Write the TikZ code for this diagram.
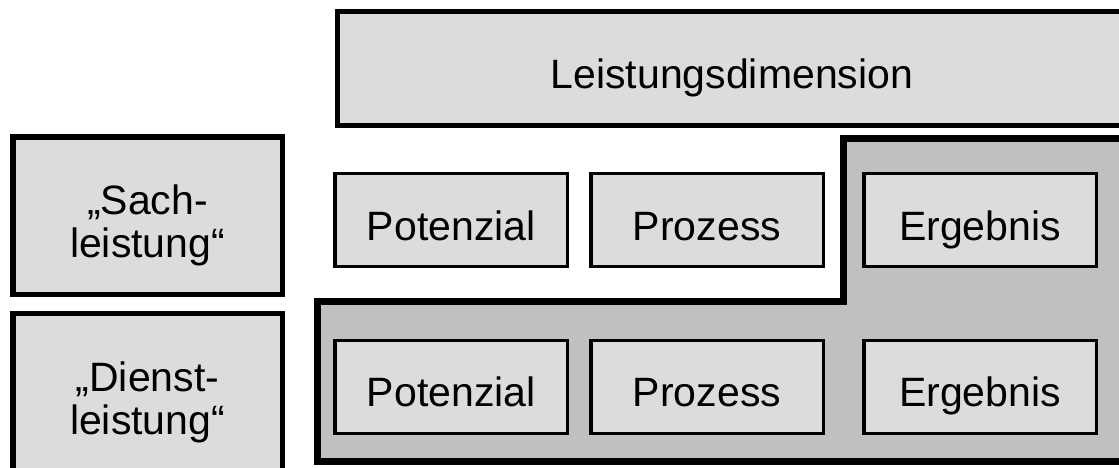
\documentclass[tikz,border=0pt]{standalone}
\usepackage{fontspec}
\setmainfont{Liberation Sans}
\usetikzlibrary{calc}
\definecolor{boxgray}{RGB}{220,220,220}
\definecolor{zonegray}{RGB}{192,192,192}
\begin{document}
\begin{tikzpicture}[x=1pt,y=-1pt,
  every node/.style={inner sep=0pt, outer sep=0pt, font=\fontsize{41}{43}\selectfont},
  cell/.style={draw, fill=boxgray, line width=3.5pt, minimum width=232.5pt,
    minimum height=93pt, text height=40pt, text depth=0pt},
  headbox/.style={draw, fill=boxgray, line width=5pt, minimum width=789.3pt,
    minimum height=113.7pt, text height=40pt, text depth=0pt},
  kindbox/.style={draw, fill=boxgray, line width=5.5pt, minimum width=269.5pt,
    minimum height=157.8pt},
  kindtext/.style={align=center},
  zone/.style={draw, fill=zonegray, line width=7pt}
]
\useasboundingbox (0,0) rectangle (1119,468);
\begin{scope}
  \clip (0,0) rectangle (1119,468);

  % shaded step-shaped zone behind the service row and the upper result
  \draw[zone] (317.5,301.9) -- (843.6,301.9) -- (843.6,138.9) -- (1130,138.9)
    -- (1130,461.3) -- (317.5,461.3) -- cycle;

  % header
  \node[headbox] (dim) at (731.9,68.7) {Leistungsdimension};

  % row labels
  \node[kindbox] (sach) at (147.5,215.7) {};
  \node[kindtext] (sachlabel) at ($(sach.center)+(0,9.8)$) {„Sach-\\leistung“};
  \node[kindbox] (dienst) at (147.5,392.4) {};
  \node[kindtext] (dienstlabel) at ($(dienst.center)+(0,9.8)$) {„Dienst-\\leistung“};

  % upper row
  \node[cell] (pot1) at (451.3,220) {Potenzial};
  \node[cell] (pro1) at (707,220) {Prozess};
  \node[cell] (erg1) at (980,220) {Ergebnis};

  % lower row
  \node[cell] (pot2) at (451.3,386.8) {Potenzial};
  \node[cell] (pro2) at (707,386.8) {Prozess};
  \node[cell] (erg2) at (980,386.8) {Ergebnis};
\end{scope}
\end{tikzpicture}
\end{document}
